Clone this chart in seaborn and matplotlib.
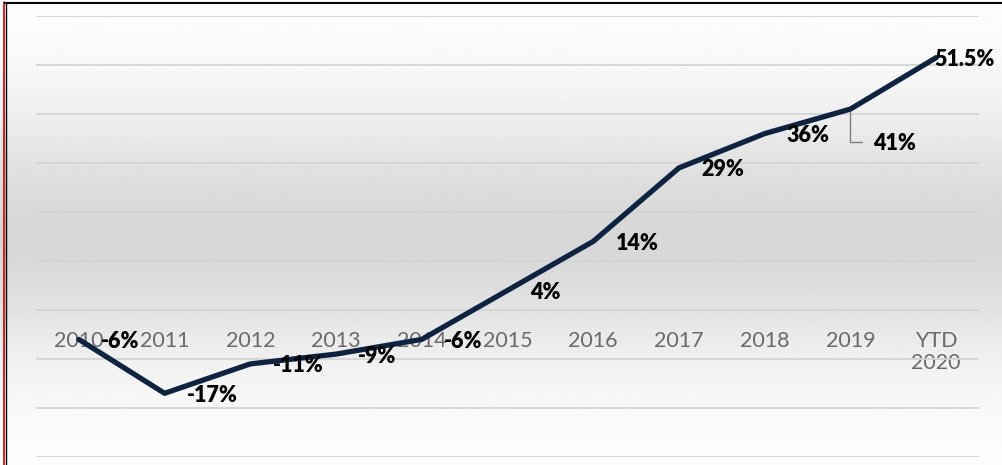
import numpy as np
import pandas as pd
import matplotlib
matplotlib.use("Agg")
import matplotlib.pyplot as plt
import seaborn as sns
from matplotlib.lines import Line2D

# Data
years = ['2010', '2011', '2012', '2013', '2014', '2015', '2016', '2017', '2018', '2019', 'YTD\n2020']
values = [-6, -17, -11, -9, -6, 4, 14, 29, 36, 41, 51.5]
labels = ['-6%', '-17%', '-11%', '-9%', '-6%', '4%', '14%', '29%', '36%', '41%', '51.5%']

df = pd.DataFrame({'pos': range(len(years)), 'value': values})

sns.set_theme(style='white')
plt.rcParams['font.family'] = ['Lato', 'DejaVu Sans']

fig = plt.figure(figsize=(10.02, 4.65), dpi=100)

# Background gradient (white -> grey -> white)
bg = fig.add_axes([0, 0, 1, 1], zorder=0)
rows = np.linspace(0, 1, 465)
centre = 1 - 235 / 465
shade = 0.995 - 0.15 * np.exp(-((rows - centre) / 0.27) ** 2)
grad = np.repeat(shade[:, None], 2, axis=1)
bg.imshow(grad, cmap='gray', vmin=0, vmax=1, aspect='auto', origin='lower',
          extent=[0, 1, 0, 1])
bg.set_xlim(0, 1)
bg.set_ylim(0, 1)
bg.axis('off')

# Border on top and left
fig.add_artist(Line2D([0.004, 0.004], [0, 0.995], color='#cc0000', lw=1.2, transform=fig.transFigure))
fig.add_artist(Line2D([0.005, 1], [0.994, 0.994], color='black', lw=1.5, transform=fig.transFigure))
fig.add_artist(Line2D([0.0055, 0.0055], [0, 0.994], color='black', lw=1.0, transform=fig.transFigure))

ax = fig.add_axes([36 / 1002, 8 / 465, (979 - 36) / 1002, (457 - 16) / 465], zorder=1)
ax.patch.set_alpha(0)

sns.lineplot(data=df, x='pos', y='value', color='#0f2340', linewidth=3.8, ax=ax,
             solid_capstyle='round', solid_joinstyle='round')

ax.set_xlim(-0.5, len(years) - 0.5)
ax.set_ylim(-30, 60)
ax.set_yticks(range(-30, 61, 10))
ax.yaxis.grid(True, color='#d4d4d4', linewidth=1.3)
ax.set_axisbelow(True)
for s in ax.spines.values():
    s.set_visible(False)
ax.spines['bottom'].set_position(('data', 0))
ax.set_yticklabels([])
ax.tick_params(axis='y', length=0)
ax.set_xticks(df['pos'])
ax.set_xticklabels(years, fontfamily='Lato', fontweight='normal', fontsize=15.5,
                   color='#6a6a6a', linespacing=1.15)
ax.tick_params(axis='x', length=0, pad=15)
ax.set_xlabel('')
ax.set_ylabel('')

lbl = dict(fontsize=15.5, fontweight='heavy', color='black', va='center', ha='left',
           textcoords='offset points')

# Data labels
for i, (v, t) in enumerate(zip(values, labels)):
    if i in (9, 10):
        continue
    ax.annotate(t, (i, v), xytext=(16, -1.5), **lbl)

# last point label sits right on the point
ax.annotate(labels[10], (10, values[10]), xytext=(-1, -1), **lbl)

# 41% label with leader line
ax.annotate(labels[9], (9, values[9]), xytext=(16, -25), **lbl)
ax.annotate('', (9, values[9]), xytext=(10, -24), textcoords='offset points',
            arrowprops=dict(arrowstyle='-', color='#7f7f7f', lw=1.0,
                            connectionstyle='angle,angleA=0,angleB=90,rad=0'))

fig.savefig('out.png', dpi=100)
